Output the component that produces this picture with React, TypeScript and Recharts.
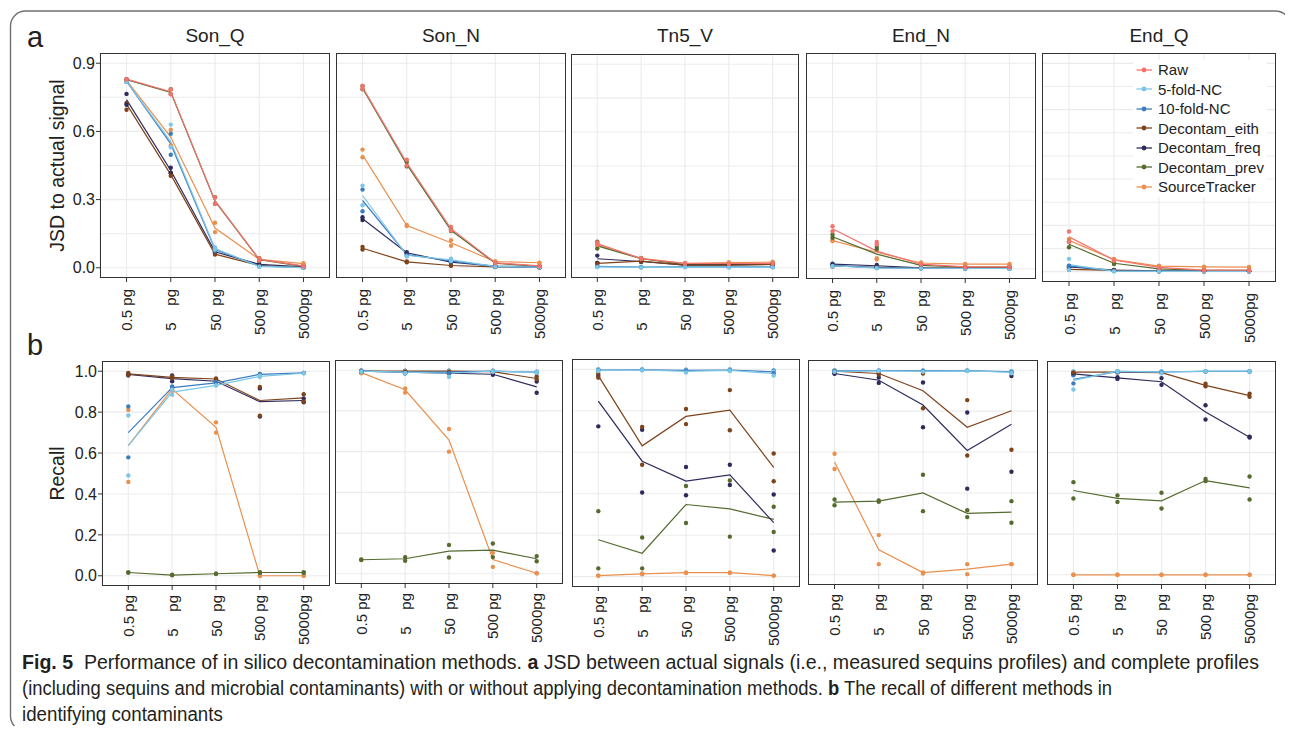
import { LineChart, Line, XAxis, YAxis, CartesianGrid, Legend } from 'recharts';

const DOSES = ['0.5 pg', '5    pg', '50  pg', '500 pg', '5000pg'];
const SERIES = ['Raw', '5-fold-NC', '10-fold-NC', 'Decontam_eith', 'Decontam_freq', 'Decontam_prev', 'SourceTracker'];
const COLORS = ['#F4736E', '#7CC6E6', '#3C7DC0', '#7E431B', '#2E2B5C', '#556B2F', '#EA8F4E'];
const PANELS = ['Son_Q', 'Son_N', 'Tn5_V', 'End_N', 'End_Q'];

const JSD_DOMAIN = [-0.045, 0.945];
const JSD_TICKS = [0, 0.3, 0.6, 0.9];
const JSD_GRID = [0, 0.05, 0.1, 0.15, 0.2, 0.25, 0.3, 0.35, 0.4, 0.45, 0.5, 0.55, 0.6, 0.65, 0.7, 0.75, 0.8, 0.85, 0.9];
const RECALL_DOMAIN = [-0.05, 1.05];
const RECALL_TICKS = [0, 0.2, 0.4, 0.6, 0.8, 1.0];
const RECALL_GRID = [0, 0.1, 0.2, 0.3, 0.4, 0.5, 0.6, 0.7, 0.8, 0.9, 1.0];

// rows follow SERIES order; line = plotted mean, repA / repB = the two replicate dots
// ---- JSD to actual signal ----
const jsdSonQLine = [
  [0.83, 0.775, 0.295, 0.037, 0.008],
  [0.82, 0.555, 0.085, 0.006, 0.001],
  [0.82, 0.545, 0.08, 0.008, 0.001],
  [0.72, 0.41, 0.06, 0.01, 0.002],
  [0.74, 0.428, 0.07, 0.015, 0.004],
  [0.828, 0.772, 0.293, 0.036, 0.006],
  [0.825, 0.575, 0.175, 0.037, 0.018],
];
const jsdSonQRepA = [
  [0.83, 0.786, 0.31, 0.042, 0.01],
  [0.822, 0.63, 0.09, 0.008, 0.001],
  [0.82, 0.59, 0.085, 0.01, 0.002],
  [0.725, 0.415, 0.062, 0.012, 0.003],
  [0.765, 0.44, 0.072, 0.018, 0.005],
  [0.83, 0.786, 0.31, 0.042, 0.008],
  [0.83, 0.607, 0.198, 0.04, 0.02],
];
const jsdSonQRepB = [
  [0.828, 0.764, 0.282, 0.032, 0.006],
  [0.818, 0.53, 0.08, 0.004, 0.0],
  [0.818, 0.497, 0.075, 0.006, 0.0],
  [0.695, 0.405, 0.058, 0.008, 0.001],
  [0.717, 0.418, 0.068, 0.012, 0.003],
  [0.826, 0.764, 0.282, 0.03, 0.004],
  [0.82, 0.538, 0.157, 0.034, 0.016],
];

const jsdSonNLine = [
  [0.795, 0.462, 0.172, 0.022, 0.008],
  [0.318, 0.055, 0.035, 0.006, 0.003],
  [0.296, 0.058, 0.03, 0.005, 0.002],
  [0.086, 0.026, 0.01, 0.004, 0.002],
  [0.216, 0.066, 0.025, 0.007, 0.005],
  [0.79, 0.455, 0.165, 0.02, 0.006],
  [0.497, 0.186, 0.11, 0.027, 0.022],
];
const jsdSonNRepA = [
  [0.8, 0.475, 0.18, 0.025, 0.009],
  [0.361, 0.06, 0.04, 0.007, 0.003],
  [0.344, 0.062, 0.032, 0.006, 0.002],
  [0.092, 0.028, 0.011, 0.005, 0.002],
  [0.222, 0.068, 0.026, 0.008, 0.005],
  [0.8, 0.465, 0.17, 0.024, 0.007],
  [0.52, 0.188, 0.121, 0.029, 0.022],
];
const jsdSonNRepB = [
  [0.787, 0.45, 0.164, 0.02, 0.007],
  [0.275, 0.05, 0.03, 0.005, 0.002],
  [0.249, 0.054, 0.028, 0.004, 0.002],
  [0.08, 0.024, 0.009, 0.003, 0.001],
  [0.21, 0.064, 0.024, 0.006, 0.004],
  [0.785, 0.446, 0.162, 0.018, 0.005],
  [0.486, 0.184, 0.097, 0.025, 0.021],
];

const jsdTn5VLine = [
  [0.107, 0.041, 0.019, 0.019, 0.02],
  [0.004, 0.002, 0.003, 0.003, 0.003],
  [0.006, 0.003, 0.004, 0.004, 0.004],
  [0.02, 0.03, 0.012, 0.012, 0.015],
  [0.04, 0.028, 0.012, 0.013, 0.016],
  [0.097, 0.04, 0.014, 0.015, 0.017],
  [0.102, 0.042, 0.02, 0.023, 0.025],
];
const jsdTn5VRepA = [
  [0.112, 0.043, 0.02, 0.021, 0.022],
  [0.005, 0.003, 0.003, 0.003, 0.003],
  [0.007, 0.003, 0.004, 0.005, 0.005],
  [0.022, 0.032, 0.014, 0.014, 0.017],
  [0.054, 0.03, 0.015, 0.016, 0.02],
  [0.115, 0.043, 0.016, 0.017, 0.019],
  [0.108, 0.044, 0.022, 0.025, 0.027],
];
const jsdTn5VRepB = [
  [0.102, 0.039, 0.018, 0.017, 0.018],
  [0.003, 0.001, 0.003, 0.002, 0.002],
  [0.005, 0.003, 0.004, 0.003, 0.003],
  [0.018, 0.028, 0.01, 0.01, 0.013],
  [0.022, 0.026, 0.009, 0.01, 0.012],
  [0.085, 0.037, 0.012, 0.013, 0.015],
  [0.096, 0.04, 0.018, 0.021, 0.023],
];

const jsdEndNLine = [
  [0.175, 0.077, 0.02, 0.008, 0.008],
  [0.013, 0.003, 0.002, 0.001, 0.001],
  [0.015, 0.005, 0.002, 0.001, 0.001],
  [0.012, 0.006, 0.003, 0.002, 0.002],
  [0.02, 0.013, 0.004, 0.003, 0.003],
  [0.14, 0.064, 0.015, 0.007, 0.007],
  [0.123, 0.072, 0.025, 0.02, 0.02],
];
const jsdEndNRepA = [
  [0.186, 0.117, 0.022, 0.01, 0.009],
  [0.015, 0.004, 0.002, 0.001, 0.001],
  [0.018, 0.006, 0.003, 0.002, 0.001],
  [0.014, 0.007, 0.004, 0.003, 0.002],
  [0.022, 0.016, 0.005, 0.003, 0.003],
  [0.15, 0.095, 0.017, 0.008, 0.008],
  [0.125, 0.046, 0.028, 0.021, 0.021],
];
const jsdEndNRepB = [
  [0.164, 0.107, 0.018, 0.006, 0.007],
  [0.011, 0.002, 0.001, 0.001, 0.0],
  [0.012, 0.004, 0.002, 0.001, 0.001],
  [0.01, 0.005, 0.002, 0.002, 0.001],
  [0.018, 0.01, 0.003, 0.002, 0.002],
  [0.136, 0.085, 0.013, 0.006, 0.006],
  [0.121, 0.04, 0.022, 0.019, 0.019],
];

const jsdEndQLine = [
  [0.15, 0.05, 0.018, 0.006, 0.006],
  [0.03, 0.002, 0.001, 0.001, 0.001],
  [0.025, 0.003, 0.002, 0.001, 0.001],
  [0.01, 0.005, 0.002, 0.002, 0.002],
  [0.02, 0.006, 0.003, 0.002, 0.002],
  [0.118, 0.036, 0.012, 0.005, 0.005],
  [0.135, 0.052, 0.024, 0.02, 0.019],
];
const jsdEndQRepA = [
  [0.173, 0.053, 0.02, 0.007, 0.007],
  [0.055, 0.003, 0.002, 0.001, 0.001],
  [0.026, 0.004, 0.002, 0.001, 0.001],
  [0.012, 0.006, 0.003, 0.002, 0.002],
  [0.022, 0.007, 0.003, 0.002, 0.002],
  [0.13, 0.039, 0.014, 0.006, 0.006],
  [0.141, 0.055, 0.025, 0.021, 0.02],
];
const jsdEndQRepB = [
  [0.128, 0.047, 0.016, 0.005, 0.005],
  [0.007, 0.001, 0.001, 0.0, 0.0],
  [0.024, 0.002, 0.001, 0.001, 0.001],
  [0.008, 0.004, 0.002, 0.001, 0.001],
  [0.018, 0.005, 0.002, 0.001, 0.001],
  [0.105, 0.033, 0.01, 0.004, 0.004],
  [0.13, 0.049, 0.023, 0.019, 0.018],
];

// ---- Recall (Raw has no recall) ----
const NO_RAW = [null, null, null, null, null];

const recSonQLine = [
  NO_RAW,
  [0.636, 0.898, 0.931, 0.975, 0.99],
  [0.7, 0.92, 0.943, 0.985, 0.992],
  [0.987, 0.97, 0.962, 0.857, 0.87],
  [0.984, 0.964, 0.951, 0.851, 0.857],
  [0.016, 0.003, 0.01, 0.016, 0.016],
  [0.636, 0.913, 0.726, 0.0, 0.0],
];
const recSonQRepA = [
  NO_RAW,
  [0.784, 0.885, 0.93, 0.972, 0.99],
  [0.828, 0.926, 0.938, 0.987, 0.992],
  [0.992, 0.975, 0.965, 0.923, 0.888],
  [0.985, 0.979, 0.956, 0.916, 0.867],
  [0.016, 0.005, 0.01, 0.018, 0.018],
  [0.811, 0.913, 0.75, 0.0, 0.0],
];
const recSonQRepB = [
  NO_RAW,
  [0.49, 0.91, 0.932, 0.978, 0.99],
  [0.579, 0.915, 0.948, 0.983, 0.992],
  [0.98, 0.965, 0.958, 0.782, 0.852],
  [0.98, 0.951, 0.946, 0.779, 0.848],
  [0.016, 0.002, 0.01, 0.014, 0.014],
  [0.459, 0.906, 0.7, 0.0, 0.0],
];

const recSonNLine = [
  NO_RAW,
  [0.995, 0.99, 0.985, 0.995, 0.99],
  [0.995, 0.99, 0.99, 0.995, 0.99],
  [0.995, 0.995, 0.995, 0.993, 0.959],
  [0.995, 0.99, 0.985, 0.98, 0.918],
  [0.069, 0.074, 0.111, 0.116, 0.074],
  [0.988, 0.904, 0.657, 0.07, 0.003],
];
const recSonNRepA = [
  NO_RAW,
  [0.998, 0.995, 0.998, 0.998, 0.992],
  [0.998, 0.995, 0.995, 0.998, 0.992],
  [0.997, 0.997, 0.997, 0.995, 0.969],
  [0.998, 0.995, 0.985, 0.983, 0.944],
  [0.07, 0.082, 0.142, 0.149, 0.087],
  [0.993, 0.91, 0.711, 0.103, 0.003],
];
const recSonNRepB = [
  NO_RAW,
  [0.992, 0.985, 0.967, 0.992, 0.988],
  [0.992, 0.985, 0.985, 0.992, 0.988],
  [0.993, 0.993, 0.993, 0.991, 0.956],
  [0.992, 0.985, 0.985, 0.977, 0.889],
  [0.068, 0.064, 0.08, 0.082, 0.062],
  [0.985, 0.89, 0.6, 0.034, 0.003],
];

const recTn5VLine = [
  NO_RAW,
  [0.995, 0.997, 0.99, 0.995, 0.98],
  [0.997, 0.998, 0.995, 0.997, 0.988],
  [0.97, 0.631, 0.773, 0.803, 0.527],
  [0.847, 0.557, 0.461, 0.491, 0.261],
  [0.178, 0.113, 0.348, 0.327, 0.276],
  [0.005, 0.013, 0.019, 0.019, 0.005],
];
const recTn5VRepA = [
  NO_RAW,
  [0.998, 0.998, 0.995, 0.998, 0.99],
  [0.999, 0.999, 0.998, 0.999, 0.995],
  [0.979, 0.722, 0.809, 0.9, 0.594],
  [0.969, 0.709, 0.529, 0.54, 0.396],
  [0.316, 0.189, 0.437, 0.464, 0.337],
  [0.005, 0.015, 0.019, 0.019, 0.005],
];
const recTn5VRepB = [
  NO_RAW,
  [0.992, 0.996, 0.985, 0.992, 0.97],
  [0.995, 0.997, 0.992, 0.995, 0.981],
  [0.96, 0.54, 0.736, 0.706, 0.46],
  [0.725, 0.406, 0.393, 0.442, 0.126],
  [0.04, 0.04, 0.259, 0.193, 0.215],
  [0.005, 0.011, 0.019, 0.019, 0.005],
];

const recEndNLine = [
  NO_RAW,
  [0.995, 0.997, 0.995, 0.997, 0.99],
  [0.997, 0.998, 0.997, 0.998, 0.992],
  [0.995, 0.984, 0.9, 0.721, 0.802],
  [0.984, 0.951, 0.83, 0.608, 0.736],
  [0.355, 0.36, 0.4, 0.3, 0.306],
  [0.551, 0.122, 0.011, 0.028, 0.052],
];
const recEndNRepA = [
  NO_RAW,
  [0.998, 0.998, 0.998, 0.998, 0.995],
  [0.999, 0.999, 0.999, 0.999, 0.995],
  [0.996, 0.988, 0.984, 0.854, 0.99],
  [0.985, 0.964, 0.94, 0.793, 0.972],
  [0.368, 0.363, 0.489, 0.316, 0.36],
  [0.592, 0.194, 0.011, 0.052, 0.052],
];
const recEndNRepB = [
  NO_RAW,
  [0.992, 0.996, 0.992, 0.996, 0.985],
  [0.995, 0.997, 0.995, 0.997, 0.989],
  [0.994, 0.979, 0.814, 0.583, 0.611],
  [0.983, 0.938, 0.721, 0.421, 0.504],
  [0.34, 0.357, 0.311, 0.282, 0.254],
  [0.517, 0.052, 0.006, 0.003, 0.052],
];

const recEndQLine = [
  NO_RAW,
  [0.955, 1.0, 0.995, 1.0, 1.0],
  [0.96, 0.998, 0.996, 0.999, 0.999],
  [0.995, 0.995, 0.993, 0.93, 0.88],
  [0.987, 0.967, 0.948, 0.799, 0.676],
  [0.414, 0.375, 0.363, 0.463, 0.427],
  [0.0, 0.0, 0.0, 0.0, 0.0],
];
const recEndQRepA = [
  NO_RAW,
  [1.0, 1.0, 1.0, 1.0, 1.0],
  [0.98, 1.0, 0.998, 1.0, 1.0],
  [0.996, 0.996, 0.995, 0.938, 0.889],
  [0.984, 0.97, 0.966, 0.833, 0.678],
  [0.455, 0.39, 0.403, 0.471, 0.483],
  [0.0, 0.0, 0.0, 0.0, 0.0],
];
const recEndQRepB = [
  NO_RAW,
  [0.91, 0.998, 0.99, 0.999, 0.999],
  [0.94, 0.996, 0.994, 0.998, 0.998],
  [0.994, 0.994, 0.991, 0.926, 0.874],
  [0.99, 0.962, 0.933, 0.763, 0.674],
  [0.375, 0.358, 0.326, 0.46, 0.37],
  [0.0, 0.0, 0.0, 0.0, 0.0],
];

// plot-area boxes (page pixels)
const TOP_BOXES = [
  { x: 100, y: 53, w: 230, h: 225 },
  { x: 336, y: 53, w: 230, h: 225 },
  { x: 571, y: 54, w: 228, h: 224 },
  { x: 806, y: 53, w: 230, h: 226 },
  { x: 1042, y: 53, w: 234, h: 229 },
];
const BOTTOM_BOXES = [
  { x: 102, y: 361, w: 228, h: 225 },
  { x: 335, y: 360, w: 228, h: 224 },
  { x: 572, y: 359, w: 228, h: 228 },
  { x: 808, y: 360, w: 230, h: 225 },
  { x: 1047, y: 361, w: 229, h: 224 },
];

const FONT = "'Liberation Sans', Arial, sans-serif";
const INK = '#222';

type Box = { x: number; y: number; w: number; h: number };
type Grid = (number | null)[][];

function DoseTick(props: { x?: number; y?: number; payload?: { value: string } }) {
  const { x = 0, y = 0, payload } = props;
  const label = String(payload?.value ?? '').replace(/ /g, '\u00a0');
  return (
    <text transform={`translate(${x},${y}) rotate(-90)`} textAnchor="end" dominantBaseline="central" fontSize={15} fill={INK}>
      {label}
    </text>
  );
}

function LegendBox() {
  return (
    <div style={{ background: '#fff', paddingLeft: 3, fontSize: 15, color: INK, fontFamily: FONT }}>
      {SERIES.map((s, k) => (
        <div key={s} style={{ display: 'flex', alignItems: 'center', height: 19.5 }}>
          <svg width={20} height={10}>
            <line x1={0.5} x2={16} y1={5} y2={5} stroke={COLORS[k]} strokeWidth={1.3} />
            <circle cx={8} cy={5} r={2.4} fill={COLORS[k]} />
          </svg>
          <span style={{ marginLeft: 2 }}>{s}</span>
        </div>
      ))}
    </div>
  );
}

// draw order: last series first so Raw ends up on top
const DRAW_ORDER = [6, 5, 4, 3, 2, 1, 0];

function Panel(props: {
  box: Box; line: Grid; repA: Grid; repB: Grid; jsd: boolean; showY: boolean; showLegend?: boolean;
}) {
  const { box, line, repA, repB, jsd, showY, showLegend } = props;
  const yw = showY ? 36 : 0;
  const xh = 75;
  const pad = (box.w / 5.2) * 0.6;
  const rows = DOSES.map((dose, i) => {
    const row: Record<string, string | number | null> = { dose };
    SERIES.forEach((_, k) => {
      row[`m${k}`] = line[k][i];
      row[`a${k}`] = repA[k][i];
      row[`b${k}`] = repB[k][i];
    });
    return row;
  });

  return (
    <>
      <div style={{ position: 'absolute', left: box.x - yw, top: box.y }}>
        <LineChart width={box.w + yw} height={box.h + xh} data={rows} margin={{ top: 0, right: 0, bottom: 0, left: 0 }}>
          <CartesianGrid stroke="#EBEBEB" strokeWidth={1.1} horizontalValues={jsd ? JSD_GRID : RECALL_GRID} />
          <XAxis
            dataKey="dose"
            height={xh}
            interval={0}
            padding={{ left: pad, right: pad }}
            axisLine={false}
            tickLine={{ stroke: '#333' }}
            tickSize={4}
            tickMargin={jsd ? 7 : 5}
            tick={<DoseTick />}
          />
          <YAxis
            type="number"
            hide={!showY}
            width={yw}
            domain={jsd ? JSD_DOMAIN : RECALL_DOMAIN}
            ticks={jsd ? JSD_TICKS : RECALL_TICKS}
            tickFormatter={(v: number) => v.toFixed(1)}
            axisLine={false}
            tickLine={{ stroke: '#333' }}
            tickSize={4}
            tickMargin={1}
            tick={{ fontSize: 16, fill: INK }}
          />
          {DRAW_ORDER.map((k) => (
            <Line
              key={`m-${SERIES[k]}`}
              dataKey={`m${k}`}
              stroke={COLORS[k]}
              strokeWidth={1.2}
              dot={false}
              activeDot={false}
              legendType="none"
              isAnimationActive={false}
            />
          ))}
          {DRAW_ORDER.map((k) => (
            <Line
              key={`a-${SERIES[k]}`}
              dataKey={`a${k}`}
              stroke="none"
              dot={{ r: 2.2, fill: COLORS[k], stroke: 'none' }}
              activeDot={false}
              legendType="none"
              isAnimationActive={false}
            />
          ))}
          {DRAW_ORDER.map((k) => (
            <Line
              key={`b-${SERIES[k]}`}
              dataKey={`b${k}`}
              stroke="none"
              dot={{ r: 2.2, fill: COLORS[k], stroke: 'none' }}
              activeDot={false}
              legendType="none"
              isAnimationActive={false}
            />
          ))}
          {showLegend && (
            <Legend
              layout="vertical"
              align="center"
              verticalAlign="middle"
              wrapperStyle={{ left: 91, top: 7, width: 134 }}
              content={() => <LegendBox />}
            />
          )}
        </LineChart>
      </div>
      <div
        style={{
          position: 'absolute', left: box.x, top: box.y, width: box.w, height: box.h,
          border: '1px solid #333', boxSizing: 'border-box', pointerEvents: 'none',
        }}
      />
    </>
  );
}

const JSD_SETS = [
  [jsdSonQLine, jsdSonQRepA, jsdSonQRepB],
  [jsdSonNLine, jsdSonNRepA, jsdSonNRepB],
  [jsdTn5VLine, jsdTn5VRepA, jsdTn5VRepB],
  [jsdEndNLine, jsdEndNRepA, jsdEndNRepB],
  [jsdEndQLine, jsdEndQRepA, jsdEndQRepB],
];
const REC_SETS = [
  [recSonQLine, recSonQRepA, recSonQRepB],
  [recSonNLine, recSonNRepA, recSonNRepB],
  [recTn5VLine, recTn5VRepA, recTn5VRepB],
  [recEndNLine, recEndNRepA, recEndNRepB],
  [recEndQLine, recEndQRepA, recEndQRepB],
];

export default function App() {
  return (
    <div style={{ position: 'relative', width: 1293, height: 734, margin: -8, fontFamily: FONT, background: '#fff', overflow: 'hidden' }}>
      <svg width={1293} height={734} style={{ position: 'absolute', left: 0, top: 0 }} fontFamily={FONT}>
        <rect x={10.5} y={11} width={1280} height={720} rx={15} fill="none" stroke="#707070" strokeWidth={1.4} />
        <text x={27} y={46.5} fontSize={29} fill={INK}>a</text>
        <text x={27} y={355} fontSize={29} fill={INK}>b</text>
        {PANELS.map((p, i) => (
          <text key={p} x={TOP_BOXES[i].x + TOP_BOXES[i].w / 2} y={42} textAnchor="middle" fontSize={19} fill={INK}>
            {p}
          </text>
        ))}
        <text transform="translate(57,165.5) rotate(-90)" textAnchor="middle" dominantBaseline="central" fontSize={19.5} fill={INK}>
          JSD to actual signal
        </text>
        <text transform="translate(57,473.5) rotate(-90)" textAnchor="middle" dominantBaseline="central" fontSize={19.5} fill={INK}>
          Recall
        </text>
        <g fontFamily="'Liberation Sans Narrow', 'Liberation Sans', sans-serif" fontSize={19.5} fill="#231F20">
          <text transform="translate(22,669) scale(1.004,1)">
            <tspan fontWeight="bold">Fig. 5</tspan>
            <tspan>{'\u00a0\u00a0Performance of in silico decontamination methods. '}</tspan>
            <tspan fontWeight="bold">a</tspan>
            <tspan> JSD between actual signals (i.e., measured sequins profiles) and complete profiles</tspan>
          </text>
          <text transform="translate(22,695) scale(0.945,1)">
            <tspan>{'(including sequins and microbial contaminants) with or without applying decontamination methods. '}</tspan>
            <tspan fontWeight="bold">b</tspan>
            <tspan> The recall of different methods in</tspan>
          </text>
          <text transform="translate(22,721) scale(0.96,1)">identifying contaminants</text>
        </g>
      </svg>
      {TOP_BOXES.map((box, i) => (
        <Panel
          key={`top-${PANELS[i]}`}
          box={box}
          line={JSD_SETS[i][0]}
          repA={JSD_SETS[i][1]}
          repB={JSD_SETS[i][2]}
          jsd
          showY={i === 0}
          showLegend={i === 4}
        />
      ))}
      {BOTTOM_BOXES.map((box, i) => (
        <Panel
          key={`bottom-${PANELS[i]}`}
          box={box}
          line={REC_SETS[i][0]}
          repA={REC_SETS[i][1]}
          repB={REC_SETS[i][2]}
          jsd={false}
          showY={i === 0}
        />
      ))}
    </div>
  );
}
